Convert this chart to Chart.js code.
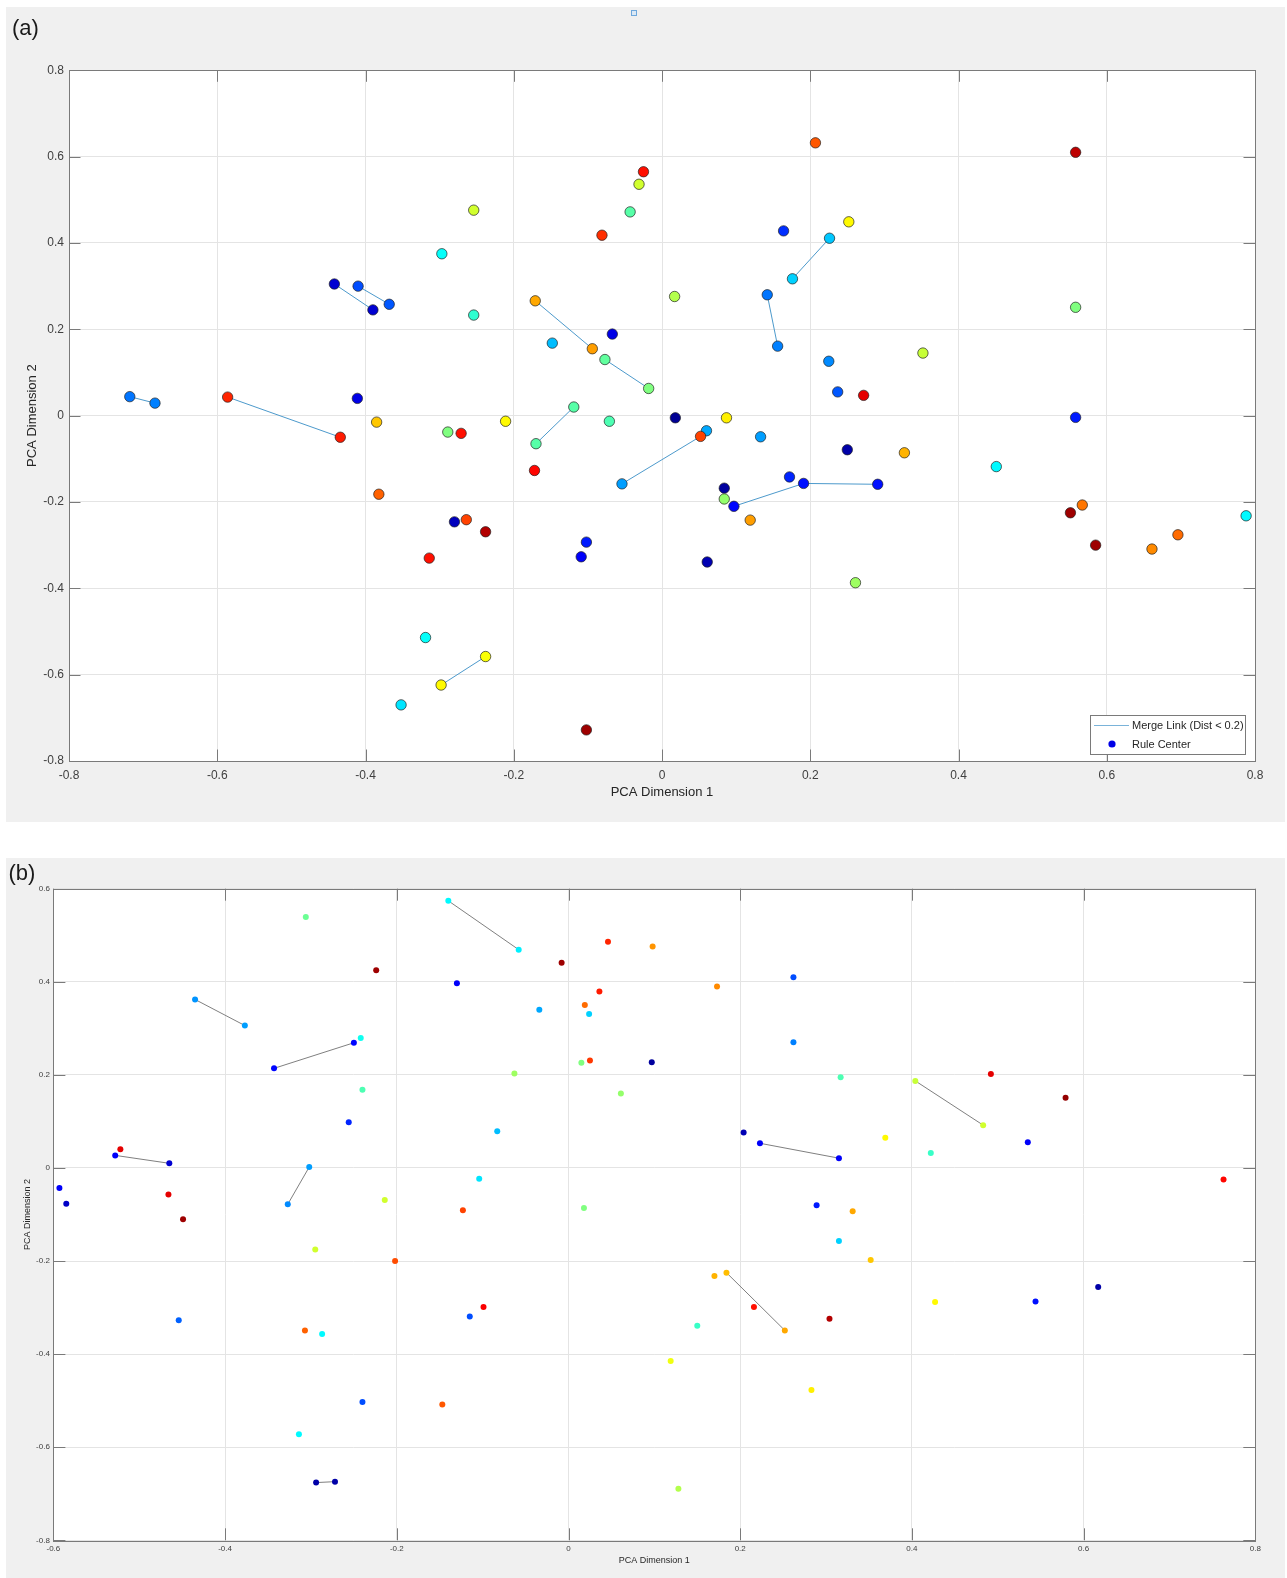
<!DOCTYPE html>
<html>
<head>
<meta charset="utf-8">
<title>PCA of rule centers</title>
<script src="https://cdn.jsdelivr.net/npm/chart.js@4.4.1/dist/chart.umd.min.js"></script>
<style>
  html, body { margin: 0; padding: 0; background: #ffffff; }
  body { width: 1287px; height: 1578px; position: relative; overflow: hidden; }
  .panel { position: absolute; background: #f0f0f0; }
  #panelA { left: 6px; top: 7px; width: 1279px; height: 815px; }
  #panelB { left: 6px; top: 858px; width: 1279px; height: 720px; }
  canvas { display: block; }
</style>
</head>
<body>
<div class="panel" id="panelA"><canvas id="chartA" width="1279" height="815" style="width:1279px;height:815px"></canvas></div>
<div class="panel" id="panelB"><canvas id="chartB" width="1279" height="720" style="width:1279px;height:720px"></canvas></div>
<script>
// ---------- (a) rule centers, first projection ----------
const aX = [-0.025,-0.031,-0.043,-0.081,-0.254,-0.297,-0.442,-0.410,-0.390,-0.368,
            -0.254,-0.171,-0.148,-0.094,-0.067,-0.077,-0.018,-0.718,-0.684,-0.586,
            -0.411,-0.119, 0.207, 0.558, 0.164, 0.252, 0.226, 0.176, 0.017, 0.142,
             0.156, 0.558, 0.352, 0.225, 0.237, 0.272, 0.018, 0.087, 0.558, 0.060,
             0.052, 0.133, 0.250, 0.327, 0.451, 0.172, 0.191, 0.291, 0.084, 0.084,
             0.097, 0.119, 0.551, 0.567, 0.788, 0.696, 0.585, 0.661, 0.061, 0.261,
            -0.385,-0.211,-0.071,-0.289,-0.271,-0.434,-0.170,-0.172,-0.054,-0.382,
            -0.280,-0.264,-0.238,-0.314,-0.102,-0.109,-0.319,-0.238,-0.298,-0.352,
            -0.102];
const aY = [ 0.565, 0.536, 0.472, 0.418, 0.476, 0.375, 0.305, 0.300, 0.245, 0.258,
             0.233, 0.266, 0.168, 0.155, 0.189, 0.130, 0.063, 0.044, 0.029, 0.043,
             0.040, 0.020, 0.632, 0.610, 0.428, 0.449, 0.411, 0.317, 0.276, 0.280,
             0.161, 0.251, 0.145, 0.126, 0.055, 0.047,-0.005,-0.005,-0.004,-0.035,
            -0.048,-0.049,-0.079,-0.086,-0.118,-0.142,-0.157,-0.159,-0.168,-0.193,
            -0.210,-0.242,-0.225,-0.207,-0.232,-0.276,-0.300,-0.309,-0.339,-0.387,
            -0.015,-0.013,-0.013,-0.038,-0.041,-0.050,-0.065,-0.127,-0.158,-0.182,
            -0.246,-0.241,-0.269,-0.330,-0.293,-0.327,-0.514,-0.558,-0.624,-0.670,
            -0.728];
// colour value of each center on the jet scale (0 = navy, 1 = dark red)
const aTone = [0.86,0.58,0.46,0.83,0.58,0.38,0.08,0.20,0.08,0.21,
               0.42,0.71,0.31,0.72,0.10,0.47,0.50,0.24,0.25,0.84,
               0.10,0.46,0.79,0.94,0.17,0.63,0.32,0.33,0.55,0.24,
               0.25,0.50,0.57,0.26,0.21,0.90,0.02,0.64,0.15,0.29,
               0.81,0.28,0.04,0.70,0.37,0.16,0.14,0.14,0.03,0.52,
               0.13,0.72,0.97,0.76,0.37,0.77,0.97,0.74,0.05,0.53,
               0.68,0.63,0.45,0.50,0.86,0.85,0.46,0.87,0.28,0.78,
               0.06,0.81,0.95,0.86,0.15,0.12,0.38,0.62,0.63,0.35,
               0.97];
// merge links: pairs of center indices
const aLinks = [[17,18],[19,65],[6,8],[7,9],[11,13],[15,16],[21,66],[68,40],
                [29,30],[27,26],[50,46],[46,47],[77,78]];
const aXTicks = [-0.8,-0.6,-0.4,-0.2,0,0.2,0.4,0.6,0.8];
const aYTicks = [-0.8,-0.6,-0.4,-0.2,0,0.2,0.4,0.6,0.8];

// ---------- (b) rule centers, second projection ----------
const bX = [-0.140,-0.058,-0.306,-0.224,-0.008, 0.046,-0.130,-0.435,-0.377, 0.036,
             0.019, 0.024,-0.034,-0.242,-0.250,-0.343, 0.015, 0.025, 0.097,-0.063,
            -0.240, 0.061,-0.256,-0.083,-0.522,-0.528,-0.465,-0.302,-0.593,-0.104,
            -0.466,-0.585,-0.327,-0.214,-0.123, 0.018,-0.449, 0.098, 0.173, 0.262,
             0.262, 0.317, 0.404, 0.483, 0.492, 0.579, 0.204, 0.223, 0.315, 0.369,
             0.422, 0.535, 0.763, 0.289, 0.331, 0.315, 0.352, 0.170, 0.184, 0.252,
             0.216, 0.304, 0.150, 0.427, 0.544, 0.617, 0.119, 0.283, 0.128,-0.295,
            -0.202,-0.099,-0.115,-0.454,-0.307,-0.287,-0.240,-0.147,-0.314,-0.294,
            -0.272];
const bY = [ 0.574, 0.469, 0.539, 0.425, 0.441, 0.486, 0.397, 0.362, 0.306, 0.379,
             0.350, 0.331, 0.340, 0.279, 0.269, 0.214, 0.226, 0.231, 0.227, 0.203,
             0.168, 0.160, 0.098, 0.079, 0.040, 0.027, 0.010, 0.002,-0.043,-0.023,
            -0.057,-0.077,-0.078,-0.069,-0.091,-0.086,-0.110, 0.476, 0.390, 0.410,
             0.270, 0.195, 0.187, 0.092, 0.202, 0.151, 0.076, 0.053, 0.021, 0.065,
             0.032, 0.055,-0.025,-0.080,-0.093,-0.157,-0.198,-0.232,-0.225,-0.349,
            -0.299,-0.324,-0.339,-0.288,-0.287,-0.256,-0.415,-0.477,-0.689,-0.175,
            -0.200,-0.299,-0.319,-0.327,-0.349,-0.357,-0.503,-0.508,-0.572,-0.676,
            -0.674];
const bTone = [0.37,0.36,0.48,0.97,0.97,0.84,0.12,0.27,0.28,0.85,
               0.77,0.33,0.29,0.39,0.13,0.13,0.50,0.82,0.03,0.53,
               0.45,0.52,0.16,0.31,0.90,0.12,0.08,0.28,0.12,0.35,
               0.90,0.07,0.26,0.58,0.81,0.50,0.97,0.73,0.74,0.20,
               0.25,0.45,0.57,0.58,0.90,0.98,0.05,0.12,0.12,0.63,
               0.43,0.12,0.87,0.15,0.71,0.33,0.68,0.70,0.69,0.71,
               0.86,0.95,0.43,0.63,0.14,0.04,0.61,0.64,0.55,0.58,
               0.80,0.88,0.20,0.22,0.78,0.37,0.20,0.79,0.37,0.04,
               0.04];
const bLinks = [[0,1],[7,8],[15,14],[25,26],[27,32],[42,43],[47,48],[58,59],[79,80]];
const bXTicks = [-0.6,-0.4,-0.2,0,0.2,0.4,0.6,0.8];
const bYTicks = [-0.8,-0.6,-0.4,-0.2,0,0.2,0.4,0.6];

// ---------- helpers ----------
const FONT = '"Liberation Sans", Arial, Helvetica, sans-serif';

function jet(t) {
  const c = v => Math.round(255 * Math.max(0, Math.min(1, v)));
  return `rgb(${c(1.5 - Math.abs(4 * t - 3))},${c(1.5 - Math.abs(4 * t - 2))},${c(1.5 - Math.abs(4 * t - 1))})`;
}

function fmtTick(v) { return String(Math.round(v * 10) / 10); }

function buildPanel(canvasId, s) {
  const canvas = document.getElementById(canvasId);
  const W = canvas.width, H = canvas.height;
  const A = s.area;

  const centers = s.x.map((x, i) => ({ x: x, y: s.y[i] }));
  const linkSets = s.links.map(([i, j]) => ({
    data: [centers[i], centers[j]],
    showLine: true,
    borderColor: s.linkColor,
    borderWidth: 1,
    pointRadius: 0,
    pointHoverRadius: 0,
    fill: false,
    order: 2
  }));
  const pointSet = {
    label: 'Rule Center',
    data: centers,
    backgroundColor: s.tone.map(jet),
    borderColor: s.edgeColor,
    borderWidth: s.edgeWidth,
    pointRadius: s.radius,
    pointHoverRadius: s.radius,
    order: 1
  };

  const deco = {
    id: 'deco_' + canvasId,
    beforeDraw(chart) {
      const { ctx, chartArea: ca } = chart;
      ctx.save();
      ctx.fillStyle = '#ffffff';
      ctx.fillRect(ca.left, ca.top, ca.right - ca.left, ca.bottom - ca.top);
      ctx.restore();
    },
    beforeDatasetsDraw(chart) {
      const { ctx, chartArea: ca, scales } = chart;
      ctx.save();
      ctx.strokeStyle = '#7a7a7a';
      ctx.lineWidth = 1;
      ctx.beginPath();
      for (const v of s.xTicks) {
        const px = Math.round(scales.x.getPixelForValue(v)) + 0.5;
        ctx.moveTo(px, ca.bottom); ctx.lineTo(px, ca.bottom - s.tickLen);
        ctx.moveTo(px, ca.top); ctx.lineTo(px, ca.top + s.tickLen);
      }
      for (const v of s.yTicks) {
        const py = Math.round(scales.y.getPixelForValue(v)) + 0.5;
        ctx.moveTo(ca.left, py); ctx.lineTo(ca.left + s.tickLen, py);
        ctx.moveTo(ca.right, py); ctx.lineTo(ca.right - s.tickLen, py);
      }
      ctx.stroke();
      ctx.strokeRect(Math.round(ca.left) + 0.5, Math.round(ca.top) + 0.5,
                     Math.round(ca.right - ca.left), Math.round(ca.bottom - ca.top));
      ctx.restore();
    },
    afterDraw(chart) {
      const { ctx, chartArea: ca } = chart;
      ctx.save();
      // panel letter
      ctx.fillStyle = '#1a1a1a';
      ctx.font = `${s.letterSize}px ${FONT}`;
      ctx.textAlign = 'left';
      ctx.textBaseline = 'middle';
      ctx.fillText(s.letter, s.letterPos[0], s.letterPos[1]);
      // axis titles
      ctx.fillStyle = '#262626';
      ctx.font = `${s.titleSize}px ${FONT}`;
      ctx.textAlign = 'center';
      ctx.fillText('PCA Dimension 1', (ca.left + ca.right) / 2, s.xTitleY);
      ctx.translate(s.yTitleX, (ca.top + ca.bottom) / 2);
      ctx.rotate(-Math.PI / 2);
      ctx.fillText('PCA Dimension 2', 0, 0);
      ctx.restore();

      if (s.legend) {
        const L = s.legend;
        ctx.save();
        ctx.fillStyle = '#ffffff';
        ctx.fillRect(L.x, L.y, L.w, L.h);
        ctx.strokeStyle = '#7a7a7a';
        ctx.lineWidth = 1;
        ctx.strokeRect(L.x + 0.5, L.y + 0.5, L.w, L.h);
        ctx.strokeStyle = s.linkColor;
        ctx.globalAlpha = 0.75;
        ctx.beginPath();
        ctx.moveTo(L.x + 4, L.y + 10.5);
        ctx.lineTo(L.x + 39, L.y + 10.5);
        ctx.stroke();
        ctx.globalAlpha = 1;
        ctx.fillStyle = '#0000e6';
        ctx.beginPath();
        ctx.arc(L.x + 22, L.y + 29, 3.6, 0, Math.PI * 2);
        ctx.fill();
        ctx.fillStyle = '#262626';
        ctx.font = `11px ${FONT}`;
        ctx.textAlign = 'left';
        ctx.textBaseline = 'middle';
        ctx.fillText('Merge Link (Dist < 0.2)', L.x + 42, L.y + 11);
        ctx.fillText('Rule Center', L.x + 42, L.y + 29.5);
        ctx.restore();
      }
      if (s.marker) {
        ctx.save();
        ctx.strokeStyle = '#6fa8dc';
        ctx.fillStyle = '#dbe9f6';
        ctx.lineWidth = 1;
        ctx.fillRect(s.marker[0], s.marker[1], 5, 5);
        ctx.strokeRect(s.marker[0] + 0.5, s.marker[1] + 0.5, 5, 5);
        ctx.restore();
      }
    }
  };

  const tickFont = { family: FONT, size: s.tickSize };
  return new Chart(canvas, {
    type: 'scatter',
    data: { datasets: [...linkSets, pointSet] },
    options: {
      responsive: false,
      animation: false,
      events: [],
      layout: { padding: { left: 0, top: A.top, right: W - A.right, bottom: 0 } },
      plugins: { legend: { display: false }, tooltip: { enabled: false } },
      scales: {
        x: {
          type: 'linear', min: s.xTicks[0], max: s.xTicks[s.xTicks.length - 1],
          afterBuildTicks: sc => { sc.ticks = s.xTicks.map(v => ({ value: v })); },
          afterFit: sc => { sc.height = H - A.bottom; },
          ticks: { autoSkip: false, maxRotation: 0, font: tickFont, color: '#404040',
                   padding: s.xPad, callback: v => fmtTick(v) },
          grid: { color: '#e4e4e4', drawTicks: false, lineWidth: 1 },
          border: { display: false }
        },
        y: {
          type: 'linear', min: s.yTicks[0], max: s.yTicks[s.yTicks.length - 1],
          afterBuildTicks: sc => { sc.ticks = s.yTicks.map(v => ({ value: v })); },
          afterFit: sc => { sc.width = A.left; },
          ticks: { autoSkip: false, font: tickFont, color: '#404040',
                   padding: s.yPad, callback: v => fmtTick(v) },
          grid: { color: '#e4e4e4', drawTicks: false, lineWidth: 1 },
          border: { display: false }
        }
      }
    },
    plugins: [deco]
  });
}

buildPanel('chartA', {
  x: aX, y: aY, tone: aTone, links: aLinks, xTicks: aXTicks, yTicks: aYTicks,
  area: { left: 63, top: 63.3, right: 1249, bottom: 754 },
  radius: 5.2, edgeColor: 'rgba(30,30,30,0.85)', edgeWidth: 0.8,
  linkColor: 'rgb(77,154,204)',
  tickLen: 11.5, tickSize: 12, xPad: 7, yPad: 5,
  titleSize: 13, xTitleY: 785, yTitleX: 26,
  letter: '(a)', letterSize: 22, letterPos: [6, 22],
  legend: { x: 1084, y: 708, w: 155, h: 39 },
  marker: [625, 3]
});

buildPanel('chartB', {
  x: bX, y: bY, tone: bTone, links: bLinks, xTicks: bXTicks, yTicks: bYTicks,
  area: { left: 47.4, top: 30.7, right: 1249.3, bottom: 682.3 },
  radius: 3, edgeColor: 'rgba(0,0,0,0)', edgeWidth: 0,
  linkColor: 'rgb(128,128,128)',
  tickLen: 12, tickSize: 8, xPad: 4, yPad: 3.5,
  titleSize: 9, xTitleY: 703, yTitleX: 22,
  letter: '(b)', letterSize: 22, letterPos: [2.4, 16],
  legend: null, marker: null
});
</script>
</body>
</html>
